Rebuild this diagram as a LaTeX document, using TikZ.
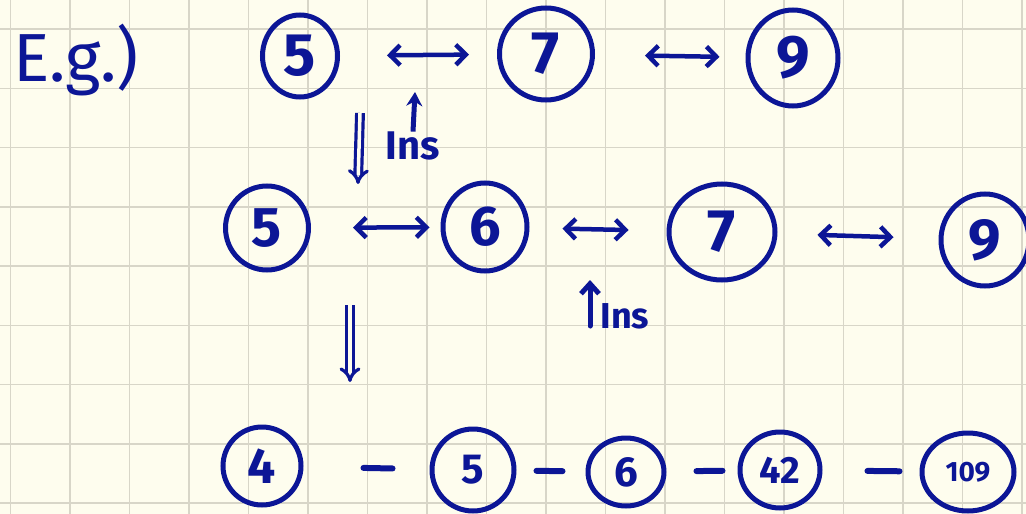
\documentclass[tikz,border=0pt]{standalone}
\usepackage{fontspec}
\setmainfont{Fira Sans}
\usepackage{tikz}
\usetikzlibrary{
  shapes.geometric,
  arrows.meta,
  positioning
}
\definecolor{inkblue}{RGB}{12, 22, 150}
\definecolor{paperbg}{RGB}{254, 253, 238}
\definecolor{gridline}{RGB}{216, 214, 200}
\tikzset{
  numnode/.style = {
    ellipse, draw=inkblue, line width=5pt, inner sep=0pt,
    text=inkblue, font=\fontsize{#1}{#1}\selectfont\bfseries
  },
  numnode/.default = 60,
  pairarr/.style = {
    {Straight Barb[length=10pt, width=20pt]}-{Straight Barb[length=10pt, width=20pt]},
    draw=inkblue, line width=4.5pt, line cap=round
  },
  linkdash/.style = {draw=inkblue, line width=6pt, line cap=round},
  dblarr/.style = {
    draw=inkblue, double=paperbg, double distance=3.5pt,
    line width=3.2pt, -{Implies}
  },
  insarr/.style = {-{Stealth[length=14pt, width=16pt]}, draw=inkblue, line width=5pt},
  insarrb/.style = {-{Straight Barb[length=10pt, width=18pt]}, draw=inkblue,
    line width=5pt, line cap=round},
  lbl/.style = {text=inkblue, inner sep=0pt, font=\fontsize{#1}{#1}\selectfont},
  lbl/.default = 40,
  inslbl/.style = {text=inkblue, inner sep=0pt, font=\fontsize{#1}{#1}\selectfont\bfseries},
  inslbl/.default = 40,
}

\begin{document}
\begin{tikzpicture}[x=1pt, y=-1pt]

  \useasboundingbox (0,0) rectangle (1026,514);
  \clip (0,0) rectangle (1026,514);
  \fill[paperbg] (0,0) rectangle (1026,514);

  % grid paper
  \foreach \gx in {0,...,17}
    \draw[gridline, line width=1.5pt] (10.5+59.5*\gx,0) -- (10.5+59.5*\gx,514);
  \foreach \gy in {0,...,8}
    \draw[gridline, line width=1.5pt] (0,29+59.25*\gy) -- (1026,29+59.25*\gy);

  \node[lbl=68] (eg) at (76,60) {E.g.)};

  % first list
  \node[numnode=60, minimum width=75pt, minimum height=82pt] (a5) at (300,56) {5};
  \node[numnode=60, minimum width=93pt, minimum height=92pt] (a7) at (546,54) {7};
  \node[numnode=60, minimum width=90pt, minimum height=96pt] (a9) at (793,58) {9};

  % second list
  \node[numnode=56, minimum width=83pt, minimum height=84pt] (b5) at (267,228) {5};
  \node[numnode=56, minimum width=84pt, minimum height=88pt] (b6) at (485,227) {6};
  \node[numnode=60, minimum width=106pt, minimum height=96pt] (b7) at (722,232) {7};
  \node[numnode=58, minimum width=88pt, minimum height=92pt] (b9) at (985,240) {9};

  % third list
  \node[numnode=50, minimum width=78pt, minimum height=78pt] (c4) at (262,466) {4};
  \node[numnode=42, minimum width=82pt, minimum height=82pt] (c5) at (473,470) {5};
  \node[numnode=42, minimum width=76pt, minimum height=68pt] (c6) at (626,472) {6};
  \node[numnode=38, minimum width=80pt, minimum height=76pt] (c42) at (780,470) {42};
  \node[numnode=28, minimum width=92pt, minimum height=78pt] (c109) at (968,472) {109};

  % Ins labels
  \node[inslbl=40] (ins1) at (413,146) {Ins};
  \node[inslbl=36] (ins2) at (625,316) {Ins};
  \coordinate (tip1) at (415,92);
  \coordinate (foot2) at (590,326);
  \coordinate (tip2) at (590,280);
  \coordinate (dn1a) at (360,113);
  \coordinate (dn1b) at (358,184);
  \coordinate (dn2a) at (350,305);
  \coordinate (dn2b) at (350,382);

  % Arrows
  \draw[pairarr, shorten <=47pt, shorten >=28pt] (a5) -- (a7);
  \draw[pairarr, shorten <=50pt, shorten >=26pt] (a7) -- (a9);
  \draw[pairarr, shorten <=42pt, shorten >=11pt] (b5) -- (b6);
  \draw[pairarr, shorten <=33pt, shorten >=38pt] (b6) -- (b7);
  \draw[pairarr, shorten <=40pt, shorten >=45pt] (b7) -- (b9);
  \draw[insarr] (ins1.north) -- (tip1);
  \draw[insarrb] (foot2) -- (tip2);
  \draw[dblarr] (dn1a) -- (dn1b);
  \draw[dblarr] (dn2a) -- (dn2b);
  \draw[linkdash, shorten <=60pt, shorten >=37pt] (c4) -- (c5);
  \draw[linkdash, shorten <=20pt, shorten >=23pt] (c5) -- (c6);
  \draw[linkdash, shorten <=30pt, shorten >=15pt] (c6) -- (c42);
  \draw[linkdash, shorten <=45pt, shorten >=20pt] (c42) -- (c109);

\end{tikzpicture}
\end{document}
